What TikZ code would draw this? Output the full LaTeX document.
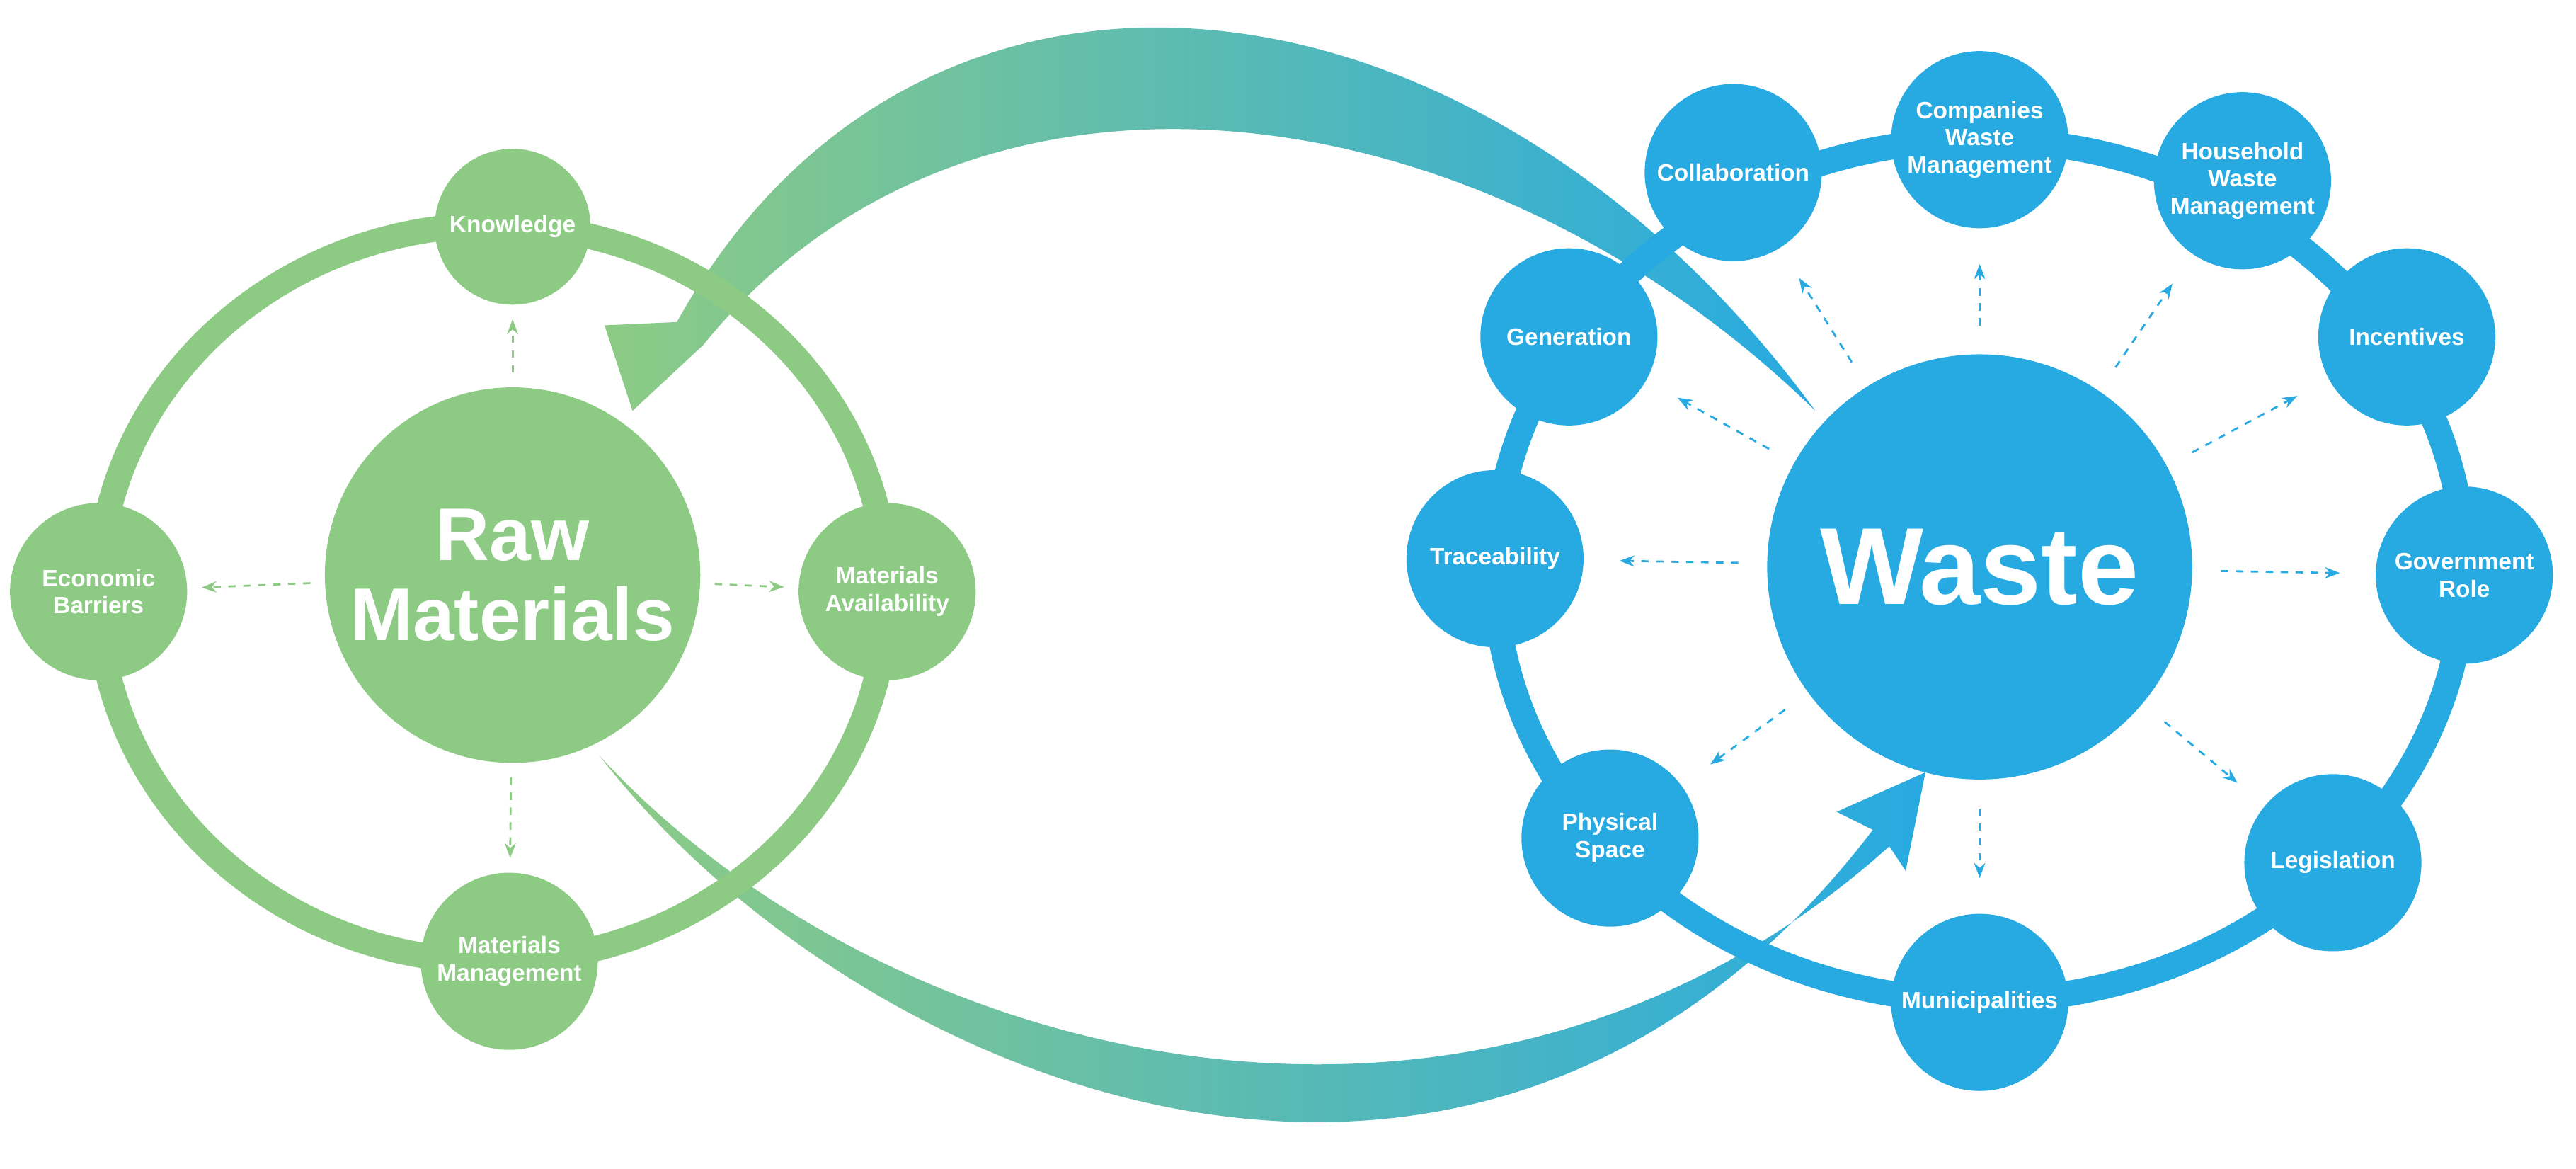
\documentclass[tikz,border=0pt]{standalone}
\usepackage{fontspec}
\setmainfont{Liberation Sans}
\setsansfont{Liberation Sans}
\usetikzlibrary{arrows.meta, positioning}
\definecolor{rawgreen}{RGB}{141,203,133}
\definecolor{wasteblue}{RGB}{39,170,225}

\begin{document}
\begin{tikzpicture}[
    x=0.0232cm, y=-0.0232cm,
    bubble/.style={circle, fill=#1, text=white, font=\sffamily\bfseries\fontsize{9.5}{11}\selectfont, align=center, inner sep=0pt},
    ring/.style={draw=#1, line width=0.36cm},
    dashline/.style={draw=#1, dashed, thick, -{Stealth[length=6pt]}}
]
    \useasboundingbox (0,0) rectangle (1568,711);

    % Big gradient arrows
    \shade[left color=rawgreen, right color=wasteblue]
        (1105,250) .. controls (900,-30) and (560,-70) .. (412,196)
        -- (368,198) -- (385,250) -- (428,210)
        .. controls (590,10) and (900,50) .. cycle;
    \shade[left color=rawgreen, right color=wasteblue]
        (365,460) .. controls (520,660) and (900,820) .. (1140,505)
        -- (1118,494) -- (1172,470) -- (1160,530)
        -- (1150,515) .. controls (900,740) and (540,650) .. cycle;

    % Left ring
    \draw[ring=rawgreen] (300,361) ellipse [x radius=240, y radius=224];
    \node[bubble=rawgreen, minimum size=5.3cm, font=\sffamily\bfseries\fontsize{30}{32}\selectfont] (raw) at (312,350) {Raw\\Materials};
    \node[bubble=rawgreen, minimum size=2.2cm] (know) at (312,138) {Knowledge};
    \node[bubble=rawgreen, minimum size=2.5cm] (econ) at (60,360) {Economic\\Barriers};
    \node[bubble=rawgreen, minimum size=2.5cm] (avail) at (540,360) {Materials\\Availability};
    \node[bubble=rawgreen, minimum size=2.5cm] (mman) at (310,585) {Materials\\Management};

    % Right ring
    \draw[ring=wasteblue] (1205,347) ellipse [x radius=295, y radius=262];
    \node[bubble=wasteblue, minimum size=6cm, font=\sffamily\bfseries\fontsize{44}{44}\selectfont] (waste) at (1205,345) {Waste};
    \node[bubble=wasteblue, minimum size=2.5cm] (collab) at (1055,105) {Collaboration};
    \node[bubble=wasteblue, minimum size=2.5cm] (comp) at (1205,85) {Companies\\Waste\\Management};
    \node[bubble=wasteblue, minimum size=2.5cm] (house) at (1365,110) {Household\\Waste\\Management};
    \node[bubble=wasteblue, minimum size=2.5cm] (incent) at (1465,205) {Incentives};
    \node[bubble=wasteblue, minimum size=2.5cm] (gov) at (1500,350) {Government\\Role};
    \node[bubble=wasteblue, minimum size=2.5cm] (legis) at (1420,525) {Legislation};
    \node[bubble=wasteblue, minimum size=2.5cm] (munic) at (1205,610) {Municipalities};
    \node[bubble=wasteblue, minimum size=2.5cm] (phys) at (980,510) {Physical\\Space};
    \node[bubble=wasteblue, minimum size=2.5cm] (trace) at (910,340) {Traceability};
    \node[bubble=wasteblue, minimum size=2.5cm] (gen) at (955,205) {Generation};

    % Dashed arrows
    \foreach \t in {know, econ, avail, mman}
        \draw[dashline=rawgreen, shorten <=0.2cm, shorten >=0.2cm] (raw) -- (\t);
    \foreach \t in {collab, comp, house, incent, gov, legis, munic, phys, trace, gen}
        \draw[dashline=wasteblue, shorten <=0.4cm, shorten >=0.5cm] (waste) -- (\t);
\end{tikzpicture}
\end{document}
